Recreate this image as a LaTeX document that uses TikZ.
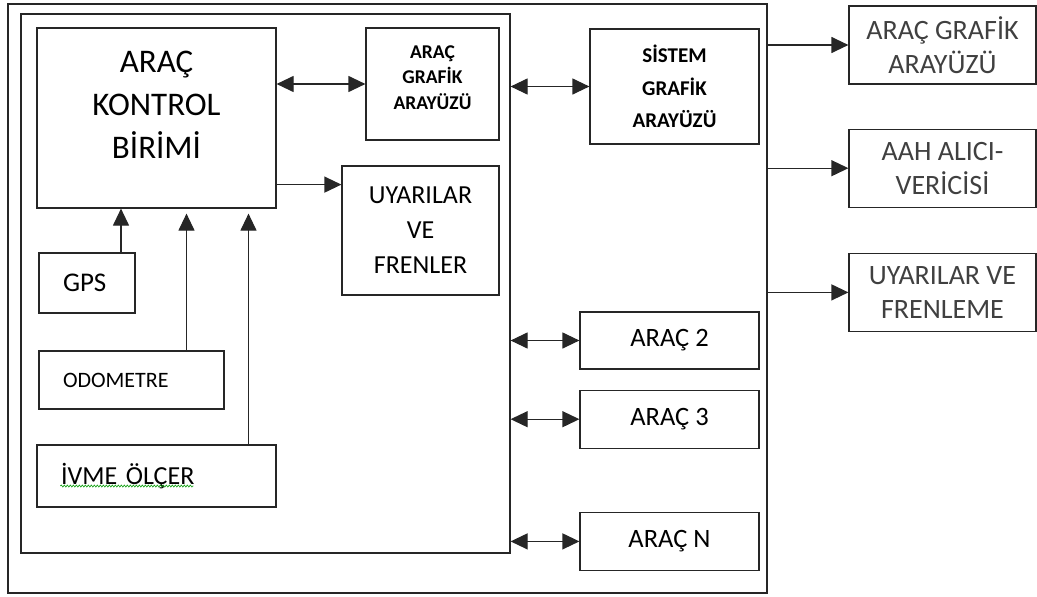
\documentclass[tikz,border=0pt]{standalone}
\usepackage{fontspec}
\setmainfont{Carlito}
\usetikzlibrary{arrows.meta, positioning, calc, decorations.pathmorphing}

\tikzset{
  kutu/.style={draw=black!85, line width=1.2pt, inner sep=0pt, align=center},
  tekok/.style={draw=black!85, line width=1.2pt, -{Triangle[length=17pt,width=16pt]}},
  ciftok/.style={draw=black!85, line width=1.2pt,
    {Triangle[length=17pt,width=16pt]}-{Triangle[length=17pt,width=16pt]}},
  sagkutu/.style={kutu, minimum width=187pt, minimum height=78pt, text=black!75,
    font=\fontsize{28}{34}\selectfont},
  arackutu/.style={kutu, minimum width=179pt, minimum height=58pt,
    font=\fontsize{26.5}{30}\selectfont},
  solkutu/.style={kutu, align=left, inner xsep=24pt, font=\fontsize{26}{30}\selectfont},
}

\begin{document}
\begin{tikzpicture}[x=1pt, y=-1pt]
\useasboundingbox (0,0) rectangle (1037,597);

% cerceveler
\node[kutu, minimum width=759pt, minimum height=589pt] (dis) at (387.5,298.5) {};
\node[kutu, minimum width=489pt, minimum height=539pt] (ic) at (265.5,283.5) {};

% arac ici birimler
\node[kutu, minimum width=239pt, minimum height=180pt] (akb) at (156.5,118) {};
\node[align=center, font=\fontsize{33}{43}\selectfont] (akbyazi)
  at ([yshift=13pt]akb.center) {ARAÇ\\KONTROL\\BİRİMİ};
\node[kutu, minimum width=133pt, minimum height=112pt] (agui) at (432.5,84) {};
\node[align=center, font=\bfseries\fontsize{19.5}{25.5}\selectfont] (aguiyazi)
  at ([yshift=6.5pt]agui.center) {ARAÇ\\GRAFİK\\ARAYÜZÜ};
\node[kutu, minimum width=157pt, minimum height=129pt,
  font=\fontsize{26}{35}\selectfont] (uyar) at (420.5,230.5) {UYARILAR\\VE\\FRENLER};

% sensorler
\node[solkutu, minimum height=60pt, text width=48pt, font=\fontsize{27}{30}\selectfont]
  (gps) at (87,283) {GPS};
\node[solkutu, minimum height=58pt, text width=137pt,
  font=\fontsize{22}{25}\selectfont] (odo) at (131.5,380) {ODOMETRE};
\node[solkutu, minimum height=62pt, text width=191pt] (ivme) at (156.5,476) {İVME ÖLÇER};
\draw[green!60!black, line width=0.6pt, decorate,
  decoration={snake, amplitude=1pt, segment length=3pt}]
  ([shift={(24pt,-10pt)}]ivme.west) -- ([shift={(157pt,-10pt)}]ivme.west);

% sistem tarafi
\node[kutu, minimum width=169pt, minimum height=115pt,
  font=\bfseries\fontsize{21}{32.5}\selectfont] (sgui) at (674.5,86.5) {SİSTEM\\GRAFİK\\ARAYÜZÜ};
\node[arackutu, minimum height=57pt] (arac2) at (669.5,340.5) {ARAÇ 2};
\node[arackutu, below=20pt of arac2] (arac3) {ARAÇ 3};
\node[arackutu, below=63pt of arac3] (aracN) {ARAÇ N};

% disari cikan birimler
\node[sagkutu] (graf) at (942.5,45) {ARAÇ GRAFİK\\ARAYÜZÜ};
\node[sagkutu, below=44pt of graf] (aah) {AAH ALICI-\\VERİCİSİ};
\node[sagkutu, below=45pt of aah] (uyfren) {UYARILAR VE\\FRENLEME};

% baglantilar
\draw[ciftok] (akb.east |- agui.west) -- (agui.west);
\draw[tekok] ([yshift=24pt]akb.south east) coordinate (k1) -- (k1 -| uyar.west);
\draw[tekok] ([xshift=34pt]gps.north) coordinate (g1) -- (g1 |- akb.south);
\draw[tekok, shorten >=5pt] ([xshift=55pt]odo.north) coordinate (o1) -- (o1 |- akb.south);
\draw[tekok, shorten >=5pt] ([xshift=92pt]ivme.north) coordinate (i1) -- (i1 |- akb.south);
\draw[ciftok] (ic.east |- sgui.west) -- (sgui.west);
\foreach \k in {arac2, arac3, aracN}
  \draw[ciftok] (ic.east |- \k.west) -- (\k.west);
\foreach \k in {graf, aah, uyfren}
  \draw[tekok] (dis.east |- \k.west) -- (\k.west);
\end{tikzpicture}
\end{document}
